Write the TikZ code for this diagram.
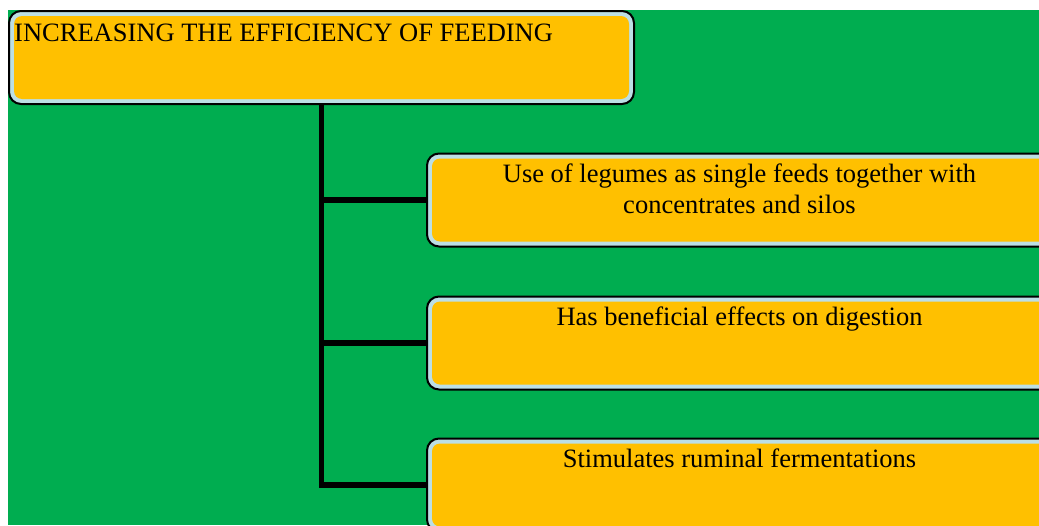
\documentclass[tikz,border=0pt]{standalone}
\usepackage{fontspec}
\setmainfont{Liberation Serif}
\definecolor{feedgreen}{HTML}{00AD50}
\definecolor{feedyellow}{HTML}{FFC000}
\definecolor{feedblue}{HTML}{BCDFE5}
\tikzset{
  feedbox/.style={draw=black, line width=2pt, fill=feedblue, rounded corners=12pt,
    minimum width=625pt, minimum height=93pt, inner sep=0pt,
    path picture={\fill[feedyellow, rounded corners=8pt]
      ([shift={(5pt,-5pt)}]path picture bounding box.north west) rectangle
      ([shift={(-5pt,5pt)}]path picture bounding box.south east);}},
  feedtext/.style={anchor=base, font=\fontsize{26.5}{31.5}\selectfont, align=center, inner sep=0pt},
  stem/.style={line width=5.5pt, line join=miter}
}

\begin{document}
\begin{tikzpicture}[x=1pt, y=-1pt]

    \useasboundingbox (0,0) rectangle (1039,525);
    \fill[white] (0,0) rectangle (1039,525);
    \fill[feedgreen] (8,10) rectangle (1039,525);

    %boxes
    \node[feedbox] (title) at (321.5,57.5){};
    \node[feedbox] (use) at (739.5,200){};
    \node[feedbox] (has) at (739.5,343){};
    \node[feedbox] (rumen) at (739.5,485){};

    %texts
    \node[feedtext, anchor=base west] (titletext) at (14,41){INCREASING THE EFFICIENCY OF FEEDING};
    \node[feedtext] (usetext) at ([yshift=-61pt]use.north){Use of legumes as single feeds together with\\concentrates and silos};
    \node[feedtext] (hastext) at ([yshift=-30pt]has.north){Has beneficial effects on digestion};
    \node[feedtext] (rumentext) at ([yshift=-29.5pt]rumen.north){Stimulates ruminal fermentations};

    %stem
    \draw[stem] (title.south) |- (rumen.west);
    \draw[stem] (title.south |- use.west) -- (use.west);
    \draw[stem] (title.south |- has.west) -- (has.west);

\end{tikzpicture}
\end{document}
